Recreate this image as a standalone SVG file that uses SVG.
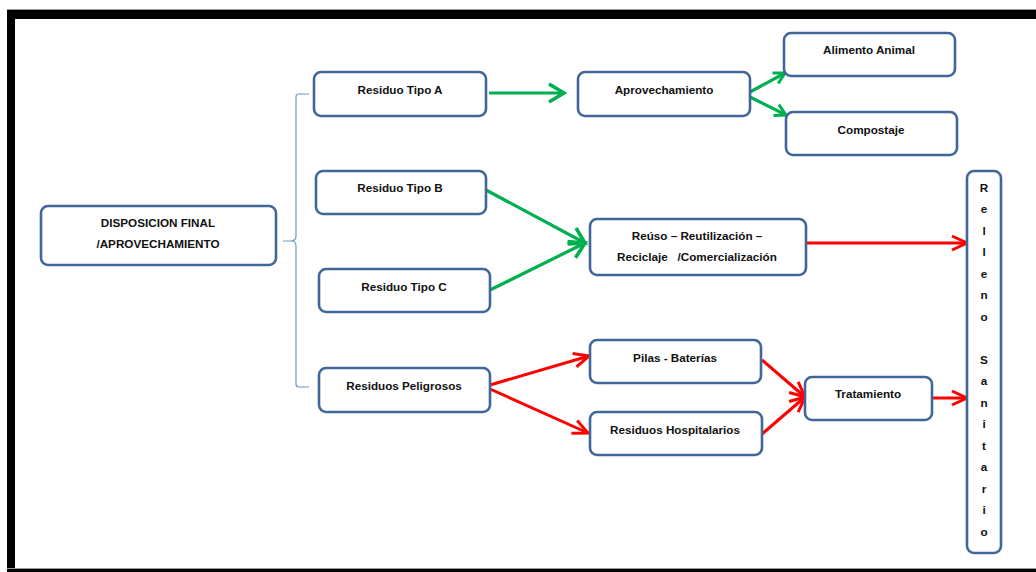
<svg xmlns="http://www.w3.org/2000/svg" width="1036" height="572" viewBox="0 0 1036 572">
<style>
.box{fill:#fff;stroke:#41679A;stroke-width:2.6}
.t{font-family:"Liberation Sans",Arial,sans-serif;font-weight:bold;font-size:11.7px;fill:#111;text-anchor:middle;white-space:pre}
.g{fill:none;stroke:#00B050;stroke-width:3.2}
.r{fill:none;stroke:#FF0000;stroke-width:3}
</style>
<defs>
<marker id="ag" markerUnits="userSpaceOnUse" markerWidth="22" markerHeight="22" viewBox="0 0 22 22" refX="19" refY="11" orient="auto"><path d="M4,2 L19,11 L4,20" fill="none" stroke="#00B050" stroke-width="3.6"/></marker>
<marker id="ags" markerUnits="userSpaceOnUse" markerWidth="16" markerHeight="16" viewBox="0 0 16 16" refX="14" refY="8" orient="auto"><path d="M3,2 L14,8 L3,14" fill="none" stroke="#00B050" stroke-width="3"/></marker>
<marker id="ar" markerUnits="userSpaceOnUse" markerWidth="20" markerHeight="20" viewBox="0 0 20 20" refX="18" refY="10" orient="auto"><path d="M3,3 L18,10 L3,17" fill="none" stroke="#FF0000" stroke-width="3"/></marker>
</defs>
<rect x="0" y="0" width="1036" height="572" fill="#fff"/>
<g id="frame">
<rect x="7" y="9" width="1029" height="1" fill="#999"/>
<rect x="7" y="10" width="1029" height="9" fill="#000"/>
<rect x="7" y="10" width="8" height="562" fill="#000"/>
<rect x="7" y="568" width="1029" height="1" fill="#999"/>
<rect x="7" y="569" width="1029" height="3" fill="#000"/>
</g>
<g id="connectors">
<path d="M309,94 H299 Q296,94 296,97 V236 Q296,241 291,241 H283 M291,241 Q296,241 296,246 V384 Q296,387 299,387 H309" fill="none" stroke="#6A96CE" stroke-width="1.2"/>
<path class="g" d="M489,93 L564,93" marker-end="url(#ag)"/>
<path class="g" d="M750,92 L785,73" marker-end="url(#ags)"/>
<path class="g" d="M750,97 L786,115" marker-end="url(#ags)"/>
<path class="g" d="M486,190 L585,243" marker-end="url(#ag)"/>
<path class="g" d="M490,290 L585,243" marker-end="url(#ag)"/>
<path class="r" d="M806,243 L967,243" marker-end="url(#ar)"/>
<path class="r" d="M490,385 L589,356" marker-end="url(#ar)"/>
<path class="r" d="M490,389 L588,433" marker-end="url(#ar)"/>
<path class="r" d="M762,360 L805,397" marker-end="url(#ar)"/>
<path class="r" d="M762,434 L805,397" marker-end="url(#ar)"/>
<path class="r" d="M932,398 L967,398" marker-end="url(#ar)"/>
</g>
<g id="disposicion"><rect class="box" x="41" y="206" width="235" height="59" rx="7"/><text class="t" x="158" y="227">DISPOSICION FINAL</text><text class="t" x="158" y="248">/APROVECHAMIENTO</text></g>
<g id="tipoA"><rect class="box" x="314" y="72" width="172" height="44" rx="7"/><text class="t" x="400" y="94">Residuo Tipo A</text></g>
<g id="tipoB"><rect class="box" x="316" y="171" width="170" height="43" rx="7"/><text class="t" x="400" y="192">Residuo Tipo B</text></g>
<g id="tipoC"><rect class="box" x="319" y="269" width="171" height="43" rx="7"/><text class="t" x="404" y="291">Residuo Tipo C</text></g>
<g id="peligrosos"><rect class="box" x="319" y="368" width="171" height="44" rx="7"/><text class="t" x="404" y="390">Residuos Peligrosos</text></g>
<g id="aprovechamiento"><rect class="box" x="578" y="72" width="172" height="44" rx="7"/><text class="t" x="664" y="94">Aprovechamiento</text></g>
<g id="alimento"><rect class="box" x="784" y="33" width="171" height="43" rx="7"/><text class="t" x="869" y="54">Alimento Animal</text></g>
<g id="compostaje"><rect class="box" x="786" y="112" width="171" height="43" rx="7"/><text class="t" x="871" y="134">Compostaje</text></g>
<g id="reuso"><rect class="box" x="590" y="219" width="216" height="56" rx="7"/><text class="t" x="697" y="240">Reúso – Reutilización –</text><text class="t" x="697" y="261">Reciclaje   /Comercialización</text></g>
<g id="pilas"><rect class="box" x="590" y="340" width="171" height="43" rx="7"/><text class="t" x="675" y="362">Pilas - Baterías</text></g>
<g id="hospitalarios"><rect class="box" x="590" y="412" width="172" height="43" rx="7"/><text class="t" x="675" y="434">Residuos Hospitalarios</text></g>
<g id="tratamiento"><rect class="box" x="805" y="377" width="127" height="43" rx="7"/><text class="t" x="868" y="398">Tratamiento</text></g>
<g id="relleno"><rect class="box" x="967" y="171" width="34" height="382" rx="7"/>
<text class="t" x="984" y="192">R</text><text class="t" x="984" y="213">e</text><text class="t" x="984" y="235">l</text><text class="t" x="984" y="256">l</text><text class="t" x="984" y="278">e</text><text class="t" x="984" y="299">n</text><text class="t" x="984" y="321">o</text>
<text class="t" x="984" y="364">S</text><text class="t" x="984" y="385">a</text><text class="t" x="984" y="407">n</text><text class="t" x="984" y="428">i</text><text class="t" x="984" y="450">t</text><text class="t" x="984" y="471">a</text><text class="t" x="984" y="493">r</text><text class="t" x="984" y="514">i</text><text class="t" x="984" y="536">o</text>
</g>
</svg>
